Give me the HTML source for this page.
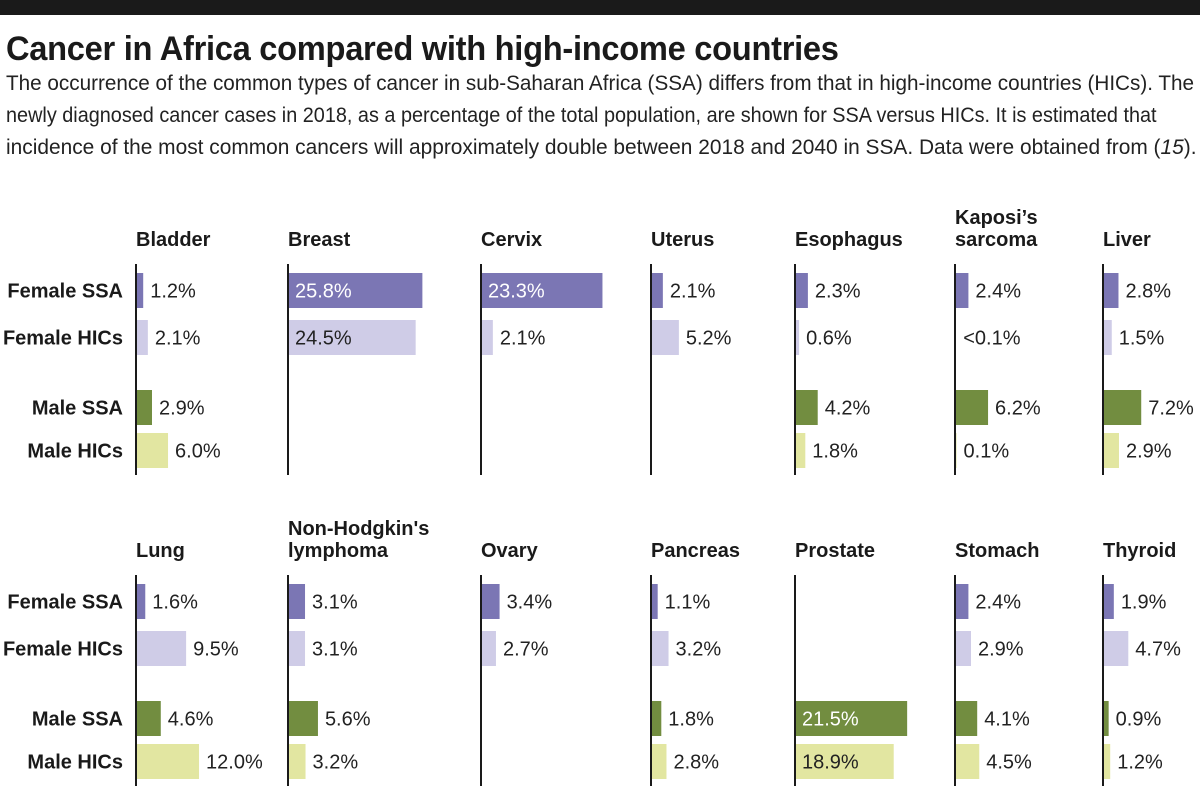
<!DOCTYPE html>
<html><head><meta charset="utf-8"><style>
body{margin:0;background:#fff;width:1200px;height:791px;overflow:hidden;font-family:"Liberation Sans Narrow","Liberation Sans",sans-serif;}
#topbar{position:absolute;left:0;top:0;width:1200px;height:15px;background:#1a1a1a}
#title{position:absolute;left:6px;top:30px;font-size:34px;font-weight:bold;color:#1a1a1a;letter-spacing:-0.3px;white-space:nowrap;transform:scaleX(0.96);transform-origin:left top}
.sl{position:absolute;left:6px;font-size:21px;line-height:32px;color:#222;white-space:nowrap;transform-origin:left top}
svg{position:absolute;left:0;top:0}
</style></head><body>
<div id="topbar"></div>
<div id="title">Cancer in Africa compared with high-income countries</div>
<div>
<div class="sl" style="top:68px;transform:scaleX(0.985)">The occurrence of the common types of cancer in sub-Saharan Africa (SSA) differs from that in high-income countries (HICs). The</div>
<div class="sl" style="top:100px;transform:scaleX(0.945)">newly diagnosed cancer cases in 2018, as a percentage of the total population, are shown for SSA versus HICs. It is estimated that</div>
<div class="sl" style="top:132px;transform:scaleX(0.995)">incidence of the most common cancers will approximately double between 2018 and 2040 in SSA. Data were obtained from (<i>15</i>).</div>
</div>
<svg id="chart" width="1200" height="791"></svg>
<script>
const cancers=["Bladder","Breast","Cervix","Uterus","Esophagus","Kaposi's sarcoma","Liver","Lung","Non-Hodgkin's lymphoma","Ovary","Pancreas","Prostate","Stomach","Thyroid"];
const femaleSSA=[1.2,25.8,23.3,2.1,2.3,2.4,2.8,1.6,3.1,3.4,1.1,null,2.4,1.9];
const femaleHIC=[2.1,24.5,2.1,5.2,0.6,0.05,1.5,9.5,3.1,2.7,3.2,null,2.9,4.7];
const maleSSA=[2.9,null,null,null,4.2,6.2,7.2,4.6,5.6,null,1.8,21.5,4.1,0.9];
const maleHIC=[6.0,null,null,null,1.8,0.1,2.9,12.0,3.2,null,2.8,18.9,4.5,1.2];
const valueLabels=[
["1.2%","25.8%","23.3%","2.1%","2.3%","2.4%","2.8%","1.6%","3.1%","3.4%","1.1%",null,"2.4%","1.9%"],
["2.1%","24.5%","2.1%","5.2%","0.6%","<0.1%","1.5%","9.5%","3.1%","2.7%","3.2%",null,"2.9%","4.7%"],
["2.9%",null,null,null,"4.2%","6.2%","7.2%","4.6%","5.6%",null,"1.8%","21.5%","4.1%","0.9%"],
["6.0%",null,null,null,"1.8%","0.1%","2.9%","12.0%","3.2%",null,"2.8%","18.9%","4.5%","1.2%"]];
const rowNames=["Female SSA","Female HICs","Male SSA","Male HICs"];
const series=[femaleSSA,femaleHIC,maleSSA,maleHIC];
const colors=["#7b76b4","#cfcce7","#728d40","#e2e6a1"];
const NS="http://www.w3.org/2000/svg";
const svg=document.getElementById("chart");
const colX=[136,288,481,651,795,955,1103];
const panelTop=[264,575];
const rowOff=[9,56,126,169];
const barH=35, scale=5.17;
const xS=v=>v*scale;
function el(t,a){const e=document.createElementNS(NS,t);for(const k in a)e.setAttribute(k,a[k]);svg.appendChild(e);return e;}
for(let p=0;p<2;p++){
  const t=panelTop[p];
  rowNames.forEach((n,r)=>{
    const tx=el("text",{x:123,y:t+rowOff[r]+barH/2+7,"text-anchor":"end","font-size":"20","font-weight":"bold",fill:"#1a1a1a"});
    tx.textContent=n;
    
    
  });
  for(let c=0;c<7;c++){
    const i=p*7+c, x0=colX[c];
    const ax=el("line",{x1:x0,x2:x0,y1:t,y2:t+211,stroke:"#1a1a1a","stroke-width":"2"});
    
    
    const name=cancers[i];
    const words=(name==="Kaposi's sarcoma")?["Kaposi’s","sarcoma"]:(name==="Non-Hodgkin's lymphoma")?["Non-Hodgkin's","lymphoma"]:[name];
    words.forEach((w,k)=>{
      const h=el("text",{x:x0,y:t-18-(words.length-1-k)*22,"font-size":"20","font-weight":"bold",fill:"#1a1a1a"});
      h.textContent=w;
      
      
    });
    series.forEach((s,r)=>{
      const v=s[i]; if(v===null) return;
      const y=t+rowOff[r], w=xS(v);
      if(v>=0.1){
        const b=el("rect",{x:x0+1,y:y,width:w,height:barH,fill:colors[r]});
        
        
      }
      const inside=v>15;
      const lb=el("text",{x:inside?x0+7:x0+w+8,y:y+barH/2+7,"font-size":"20",fill:inside&&(r%2===0)?"#fff":"#222"});
      lb.textContent=valueLabels[r][i];
      
      
    });
  }
}
</script>
</body></html>
